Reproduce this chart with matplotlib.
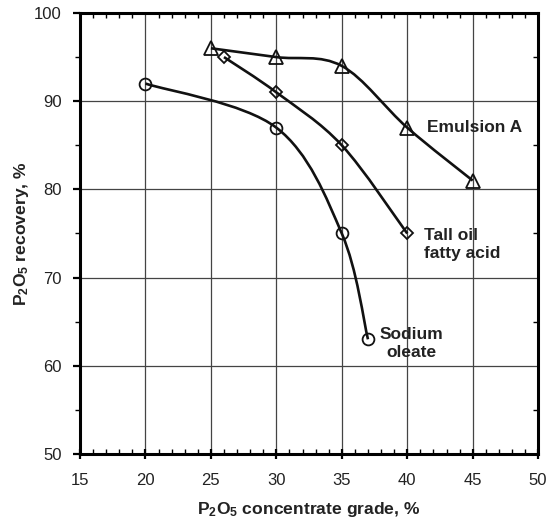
import numpy as np
import matplotlib.pyplot as plt
from matplotlib.path import Path
from matplotlib.patches import PathPatch
from matplotlib.ticker import MultipleLocator

plt.rcParams['font.family'] = ['Liberation Sans', 'DejaVu Sans']
plt.rcParams['mathtext.fontset'] = 'custom'
plt.rcParams['mathtext.rm'] = 'Liberation Sans'
plt.rcParams['mathtext.bf'] = 'Liberation Sans:bold'

### DATA

emulsion_x = [25, 30, 35, 40, 45]
emulsion_y = [96, 95, 94, 87, 81]

tall_oil_x = [26, 30, 35, 40]
tall_oil_y = [95, 91, 85, 75]

oleate_x = [20, 30, 35, 37]
oleate_y = [92, 87, 75, 63]


# smooth line through the points (Catmull-Rom as cubic Bezier segments)
def smooth_path(xs, ys):
    p = np.column_stack([xs, ys]).astype(float)
    n = len(p)
    verts = [p[0]]
    codes = [Path.MOVETO]
    for i in range(n - 1):
        p0 = p[i - 1] if i > 0 else p[i]
        p3 = p[i + 2] if i + 2 < n else p[i + 1]
        c1 = p[i] + (p[i + 1] - p0) / 6
        c2 = p[i + 1] - (p3 - p[i]) / 6
        verts += [c1, c2, p[i + 1]]
        codes += [Path.CURVE4] * 3
    return Path(verts, codes)


fig = plt.figure(figsize=(5.48, 5.2), dpi=100)
ax = fig.add_axes([0.146, 0.127, 0.836, 0.848])

ax.set_xlim(15, 50)
ax.set_ylim(50, 100)
ax.xaxis.set_major_locator(MultipleLocator(5))
ax.xaxis.set_minor_locator(MultipleLocator(1))
ax.yaxis.set_major_locator(MultipleLocator(10))
ax.yaxis.set_minor_locator(MultipleLocator(5))
ax.grid(True, which='major', color='#444444', linewidth=0.9)
ax.set_axisbelow(True)

for s in ax.spines.values():
    s.set_linewidth(2.2)

ax.tick_params(axis='x', which='major', direction='inout', length=7, width=1.6,
               labelsize=12, pad=10, top=False, labelcolor='#222222')
ax.tick_params(axis='x', which='minor', direction='in', length=3.5, width=1,
               top=True)
ax.tick_params(axis='y', which='major', direction='out', length=5, width=1.6,
               labelsize=12, pad=8, labelcolor='#222222')
ax.tick_params(axis='y', which='minor', direction='out', length=3.5, width=1)

# right-hand minor ticks point inward
ax2 = ax.twinx()
ax2.set_ylim(50, 100)
ax2.yaxis.set_major_locator(MultipleLocator(10))
ax2.yaxis.set_minor_locator(MultipleLocator(5))
ax2.tick_params(axis='y', which='major', length=0, labelright=False)
ax2.tick_params(axis='y', which='minor', direction='in', length=3.5, width=1)
for s in ax2.spines.values():
    s.set_visible(False)

series = [
    (emulsion_x, emulsion_y, '^', 10),
    (tall_oil_x, tall_oil_y, 'D', 6.5),
    (oleate_x, oleate_y, 'o', 8.5),
]
for xs, ys, m, ms in series:
    ax.add_patch(PathPatch(smooth_path(xs, ys), facecolor='none',
                           edgecolor='#111111', linewidth=1.9, zorder=3))
    ax.plot(xs, ys, linestyle='none', marker=m, markersize=ms,
            markerfacecolor='none', markeredgecolor='#111111',
            markeredgewidth=1.3, zorder=4)

ax.text(41.5, 87, 'Emulsion A', fontsize=12.5, fontweight='bold',
        va='center', ha='left', color='#222222')
ax.text(41.3, 73.8, 'Tall oil\nfatty acid', fontsize=12.5, fontweight='bold',
        va='center', ha='left', linespacing=1.25, color='#222222')
ax.text(37.9, 62.5, 'Sodium\noleate', fontsize=12.5, fontweight='bold',
        va='center', ha='left', multialignment='center', linespacing=1.25,
        color='#222222')

ax.set_xlabel(r'$\mathbf{P_2O_5}$ concentrate grade, %', fontsize=12.6,
              fontweight='bold', labelpad=9, color='#222222')
ax.set_ylabel(r'$\mathbf{P_2O_5}$ recovery, %', fontsize=12.6,
              fontweight='bold', labelpad=2, color='#222222')

fig.savefig('out.png', dpi=100)
